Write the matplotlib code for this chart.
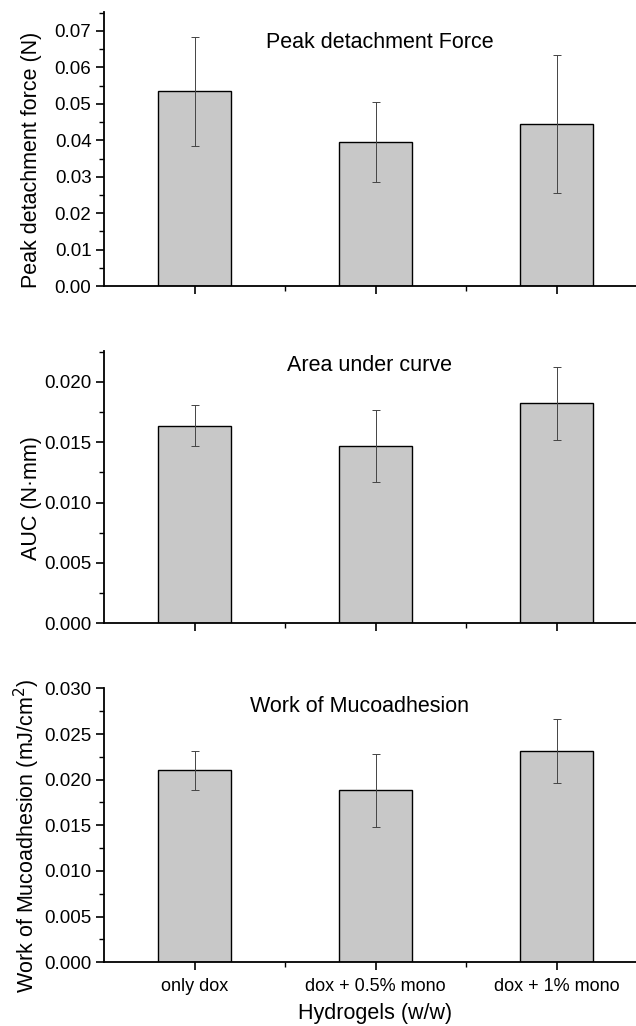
import numpy as np
import matplotlib.pyplot as plt

plt.rcParams['font.family'] = ['Liberation Sans', 'DejaVu Sans']

groups = ['only dox', 'dox + 0.5% mono', 'dox + 1% mono']

peak_force = [0.0534, 0.0396, 0.0444]
peak_force_err = [0.0149, 0.0110, 0.0190]

auc = [0.01636, 0.01468, 0.01821]
auc_err = [0.0017, 0.0030, 0.0030]

work = [0.02102, 0.01883, 0.02317]
work_err = [0.00217, 0.0040, 0.0035]

panels = [
    dict(vals=peak_force, errs=peak_force_err, title='Peak detachment Force',
         ylabel='Peak detachment force (N)', ylim=0.0752, major=0.01, fmt='%.2f',
         rect=[0.1635, 0.7212, 0.854, 0.2671], title_pos=(0.508, 0.887)),
    dict(vals=auc, errs=auc_err, title='Area under curve',
         ylabel='AUC (N\u00b7mm)', ylim=0.02257, major=0.005, fmt='%.3f',
         rect=[0.1635, 0.3925, 0.854, 0.2657], title_pos=(0.488, 0.944)),
    dict(vals=work, errs=work_err, title='Work of Mucoadhesion',
         ylabel='Work of Mucoadhesion (mJ/cm$^2$)', ylim=0.030, major=0.005, fmt='%.3f',
         rect=[0.1635, 0.0621, 0.854, 0.2670], title_pos=(0.470, 0.933)),
]

fig = plt.figure(figsize=(6.36, 10.26), dpi=100)
x = np.arange(1, len(groups) + 1)

for i, p in enumerate(panels):
    ax = fig.add_axes(p['rect'])
    ax.bar(x, p['vals'], width=0.4, color='#c8c8c8', edgecolor='black', linewidth=1.0, zorder=2)
    ax.errorbar(x, p['vals'], yerr=p['errs'], fmt='none', ecolor='#444444',
                elinewidth=0.7, capsize=3, capthick=0.7, zorder=3)
    ax.set_xlim(0.5, 3.5)
    ax.set_ylim(0, p['ylim'])
    for s in ['top', 'right']:
        ax.spines[s].set_visible(False)
    for s in ['left', 'bottom']:
        ax.spines[s].set_linewidth(1.3)
    ax.set_yticks(np.arange(0, p['ylim'] + 1e-9, p['major']))
    ax.set_yticks(np.arange(p['major'] / 2, p['ylim'], p['major']), minor=True)
    ax.yaxis.set_major_formatter(plt.FormatStrFormatter(p['fmt']))
    ax.set_xticks(x)
    ax.set_xticks([1.5, 2.5], minor=True)
    ax.tick_params(axis='both', which='major', direction='out', length=6, width=1.2,
                   labelsize=13.5, pad=3)
    ax.tick_params(axis='both', which='minor', direction='out', length=3.5, width=1.0)
    if i == len(panels) - 1:
        ax.set_xticklabels(groups, fontsize=13)
        ax.tick_params(axis='x', which='major', pad=5)
        ax.set_xlabel('Hydrogels (w/w)', fontsize=15.5, labelpad=6)
    else:
        ax.set_xticklabels([])
    ax.set_ylabel(p['ylabel'], fontsize=15.5)
    ax.yaxis.set_label_coords(-0.115, 0.46)
    ax.text(p['title_pos'][0], p['title_pos'][1], p['title'], transform=ax.transAxes,
            ha='center', va='center', fontsize=15.5)

fig.savefig('out.png', dpi=100)
